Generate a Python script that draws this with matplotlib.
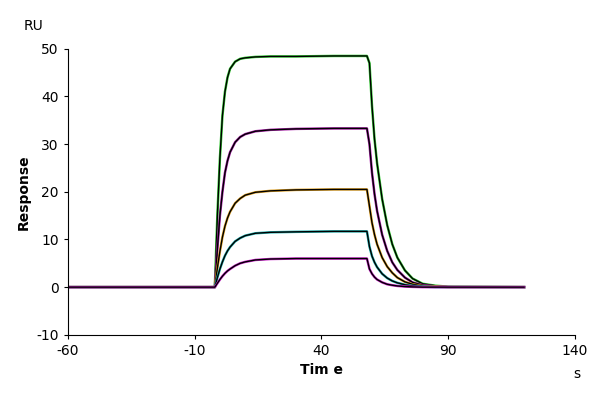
import matplotlib
matplotlib.use("Agg")
import matplotlib.pyplot as plt
plt.rcParams["axes.unicode_minus"] = False

baseline_t = [-60, -30, -2]
assoc_t = [-2, -1, 0, 1, 2, 3, 4, 6, 8, 10, 14, 20, 30, 45, 58]
dissoc_t = [58, 59, 60, 61, 62, 64, 66, 68, 70, 73, 76, 80, 85, 90, 120]

assoc = [
    [0, 15, 27, 36, 41, 44, 45.8, 47.3, 47.9, 48.1, 48.3, 48.4, 48.4, 48.5, 48.5],
    [0, 8, 15, 20, 24, 26.5, 28.3, 30.4, 31.5, 32.1, 32.7, 33.0, 33.2, 33.3, 33.3],
    [0, 4, 7.5, 10.5, 12.8, 14.5, 15.8, 17.6, 18.6, 19.3, 19.9, 20.2, 20.4, 20.5, 20.5],
    [0, 2, 3.8, 5.3, 6.6, 7.6, 8.4, 9.6, 10.3, 10.8, 11.3, 11.5, 11.6, 11.7, 11.7],
    [0, 0.8, 1.6, 2.3, 2.9, 3.4, 3.8, 4.5, 5.0, 5.3, 5.7, 5.9, 6.0, 6.0, 6.0],
]
dissoc = [
    [48.5, 47, 38, 31, 26, 18.5, 13, 9, 6.2, 3.5, 1.8, 0.7, 0.3, 0.1, 0],
    [33.3, 30, 24, 19.5, 16, 11, 7.6, 5.2, 3.6, 2.0, 1.0, 0.4, 0.15, 0.05, 0],
    [20.5, 17, 13.5, 11, 9, 6.2, 4.3, 3.0, 2.0, 1.1, 0.6, 0.2, 0.1, 0, 0],
    [11.7, 8.5, 6.5, 5.2, 4.2, 2.8, 1.9, 1.3, 0.9, 0.5, 0.25, 0.1, 0, 0, 0],
    [6, 3.8, 2.8, 2.1, 1.6, 1.0, 0.6, 0.4, 0.25, 0.12, 0.05, 0, 0, 0, 0],
]
colors = ["#33cc33", "#aa22aa", "#e0a020", "#20b0b0", "#cc22cc"]
xticks = [-60, -10, 40, 90, 140]
yticks = [-10, 0, 10, 20, 30, 40, 50]

fig = plt.figure(figsize=(6, 4), dpi=100)
ax = fig.add_axes([0.113, 0.163, 0.845, 0.715])
for a, d, c in zip(assoc, dissoc, colors):
    t = baseline_t + assoc_t[1:] + dissoc_t[1:]
    y = [0] * len(baseline_t) + a[1:] + d[1:]
    ax.plot(t, y, color=c, lw=1.8)
    ax.plot(t, y, color="black", lw=1.0)
ax.set_xlim(-60, 140)
ax.set_ylim(-10, 50)
ax.set_xticks(xticks)
ax.set_yticks(yticks)
ax.tick_params(labelsize=10, length=3)
for s in ["top", "right"]:
    ax.spines[s].set_visible(False)
ax.set_xlabel("Tim e", fontweight="bold", fontsize=10)
ax.set_ylabel("Response", fontweight="bold", fontsize=10)
fig.text(0.04, 0.925, "RU", fontsize=10)
fig.text(0.955, 0.055, "s", fontsize=10)
fig.savefig("out.png")
